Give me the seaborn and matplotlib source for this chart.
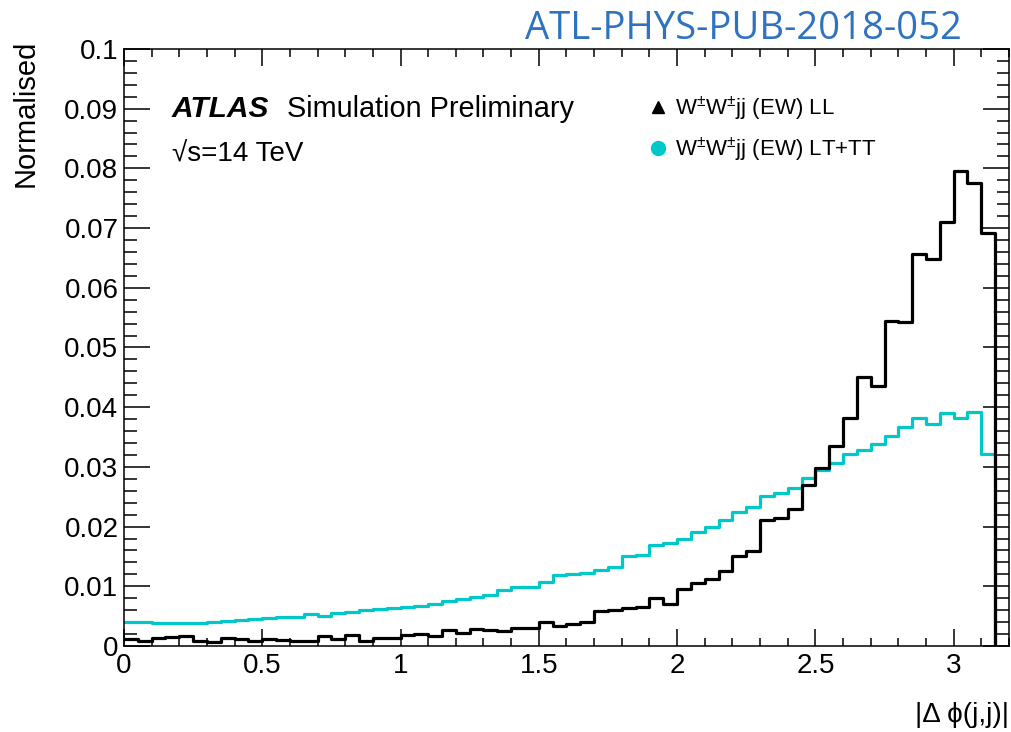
import numpy as np
import pandas as pd
import matplotlib
matplotlib.use("Agg")
import matplotlib.pyplot as plt
import seaborn as sns
from matplotlib.lines import Line2D
from matplotlib.ticker import MultipleLocator, FuncFormatter

# ---------------- data ----------------
bin_width = 0.05
n_bins = 63

ll_values = [
    0.0011, 0.0008, 0.0013, 0.0015, 0.0017, 0.0009, 0.0007, 0.0013, 0.0011, 0.0008,
    0.0011, 0.0010, 0.0009, 0.0008, 0.0017, 0.0012, 0.0018, 0.0009, 0.0013, 0.0014,
    0.0018, 0.0020, 0.0017, 0.0027, 0.0022, 0.0028, 0.0027, 0.0025, 0.0030, 0.0030,
    0.0041, 0.0034, 0.0037, 0.0040, 0.0059, 0.0060, 0.0064, 0.0066, 0.0080, 0.0071,
    0.0095, 0.0106, 0.0113, 0.0125, 0.0151, 0.0159, 0.0211, 0.0214, 0.0229, 0.0269,
    0.0298, 0.0335, 0.0382, 0.0450, 0.0436, 0.0545, 0.0542, 0.0657, 0.0649, 0.0710,
    0.0795, 0.0775, 0.0692,
]

lttt_values = [
    0.0041, 0.0041, 0.0039, 0.0039, 0.0038, 0.0039, 0.0041, 0.0042, 0.0044, 0.0045,
    0.0047, 0.0048, 0.0049, 0.0053, 0.0050, 0.0056, 0.0057, 0.0060, 0.0062, 0.0063,
    0.0065, 0.0067, 0.0070, 0.0075, 0.0079, 0.0082, 0.0085, 0.0094, 0.0098, 0.0098,
    0.0107, 0.0119, 0.0121, 0.0122, 0.0127, 0.0133, 0.0151, 0.0152, 0.0169, 0.0172,
    0.0180, 0.0191, 0.0199, 0.0211, 0.0224, 0.0232, 0.0251, 0.0256, 0.0264, 0.0282,
    0.0294, 0.0307, 0.0322, 0.0328, 0.0338, 0.0352, 0.0367, 0.0382, 0.0371, 0.0390,
    0.0382, 0.0392, 0.0322,
]

series_labels = [r"W$^{\pm}$W$^{\pm}$jj (EW) LL", r"W$^{\pm}$W$^{\pm}$jj (EW) LT+TT"]
x_label = "|Δ ϕ(j,j)|"
y_label = "Normalised"
title_text = "ATL-PHYS-PUB-2018-052"

# ---------------- style ----------------
sns.set_theme(style="ticks")
plt.rcParams["font.family"] = ["Liberation Sans", "DejaVu Sans"]
plt.rcParams["text.color"] = "black"
plt.rcParams["mathtext.fontset"] = "custom"
plt.rcParams["mathtext.rm"] = "Liberation Sans"
plt.rcParams["mathtext.it"] = "Liberation Sans:italic"
plt.rcParams["mathtext.bf"] = "Liberation Sans:bold"

black = "#000000"
cyan = "#00c8c8"

fig = plt.figure(figsize=(10.11, 7.32), dpi=100)
ax = fig.add_axes([0.1226, 0.1175, 0.8754, 0.8156])

edges = [round(i * bin_width, 4) for i in range(n_bins + 1)]
centers = [round((i + 0.5) * bin_width, 4) for i in range(n_bins)]

df = pd.DataFrame({
    "dphi": centers + centers,
    "weight": lttt_values + ll_values,
    "sample": ["LT+TT"] * n_bins + ["LL"] * n_bins,
})

lw = 2.3
for name, col in [("LT+TT", cyan), ("LL", black)]:
    sub = df[df["sample"] == name]
    sns.histplot(data=sub, x="dphi", weights="weight", bins=edges, element="step",
                 fill=False, color=col, linewidth=lw, ax=ax)
    # closing edge of the histogram down to zero
    ax.plot([edges[-1], edges[-1]], [sub["weight"].iloc[-1], 0], color=col,
            linewidth=lw, solid_capstyle="butt")

ax.set_xlim(0, 3.2)
ax.set_ylim(0, 0.1)
ax.set_xlabel("")
ax.set_ylabel("")

fmt = FuncFormatter(lambda v, p: f"{v:g}")
ax.xaxis.set_major_locator(MultipleLocator(0.5))
ax.xaxis.set_minor_locator(MultipleLocator(0.1))
ax.yaxis.set_major_locator(MultipleLocator(0.01))
ax.yaxis.set_minor_locator(MultipleLocator(0.002))
ax.xaxis.set_major_formatter(fmt)
ax.yaxis.set_major_formatter(fmt)

ax.tick_params(axis="both", which="both", direction="in", top=True, right=True,
               width=1.1, color="black", labelsize=20, labelcolor="black")
ax.tick_params(axis="x", which="major", length=12.5, pad=5)
ax.tick_params(axis="x", which="minor", length=6)
ax.tick_params(axis="y", which="major", length=19, pad=4)
ax.tick_params(axis="y", which="minor", length=9)
for s in ax.spines.values():
    s.set_visible(True)
    s.set_color("black")
    s.set_linewidth(1.1)

# axis titles
fig.text(1009 / 1011, 10 / 732, x_label, ha="right", va="baseline", fontsize=20)
fig.text(26 / 1011, 1 - 40 / 732, y_label, rotation=90, ha="center", va="top", fontsize=21)

# document label
fig.text(962 / 1011, 1 - 39 / 732, title_text, ha="right", va="baseline",
         family=["Open Sans", "DejaVu Sans"], fontsize=27.5, color="#2f73c0")

# ATLAS label
ax.text(0.054, 0.886, "ATLAS", transform=ax.transAxes, fontsize=21.5,
        fontweight="bold", fontstyle="italic", va="baseline")
ax.text(0.184, 0.886, "Simulation Preliminary", transform=ax.transAxes,
        fontsize=20.8, va="baseline")
ax.text(0.054, 0.811, "√s=14 TeV", transform=ax.transAxes,
        fontsize=20, va="baseline")

# legend
handles = [
    Line2D([], [], marker="^", color=black, linestyle="none", markersize=9),
    Line2D([], [], marker="o", color=cyan, linestyle="none", markersize=10),
]
ax.legend(handles, series_labels, loc="upper left", bbox_to_anchor=(0.593, 0.924),
          frameon=False, handlelength=0.8, handletextpad=0.4, labelspacing=0.58,
          fontsize=16, borderpad=0, borderaxespad=0)

fig.savefig("out.png", dpi=100)
